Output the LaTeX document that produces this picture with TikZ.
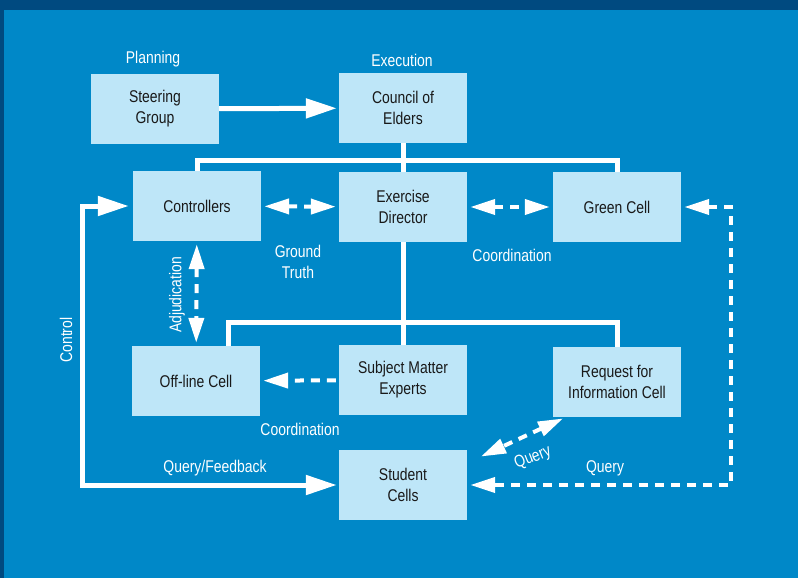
\documentclass[tikz,border=0pt]{standalone}
\usepackage{fontspec}
\setmainfont[FakeStretch=0.82]{Liberation Sans}
\usepackage{tikz}
\usetikzlibrary{arrows.meta}
\definecolor{bgblue}{HTML}{0088C8}
\definecolor{topbar}{HTML}{004A80}
\definecolor{boxblue}{HTML}{BEE6F8}
\tikzset{
    cell/.style = {rectangle, fill=boxblue, text=black!90, align=center, inner sep=0pt,
                   minimum width=128pt, minimum height=70pt, font=\fontsize{17}{21}\selectfont},
    tag/.style = {text=white, align=center, inner sep=0pt, font=\fontsize{17}{21}\selectfont},
    tree/.style = {draw=white, line width=5pt},
    flow/.style = {draw=white, line width=5pt, >={Triangle[length=31pt,width=19pt]},
                   shorten >=2pt},
    dflow/.style = {draw=white, line width=4pt, dash pattern=on 9pt off 7pt,
                    >={Triangle[length=25pt,width=15pt]}, shorten >=3pt, shorten <=3pt}
}

\begin{document}
\begin{tikzpicture}[x=1pt,y=-1pt]
    \useasboundingbox (0,0) rectangle (798,578);
    \fill[topbar] (0,0) rectangle (798,578);
    \fill[bgblue] (4,10) rectangle (798,578);

    \node [cell] (steering) at (155,109) {Steering\\Group};
    \node [cell] (council) at (403,108) {Council of\\Elders};
    \node [cell] (controllers) at (197,206) {Controllers};
    \node [cell] (director) at (403,207) {Exercise\\Director};
    \node [cell] (green) at (617,207) {Green Cell};
    \node [cell] (offline) at (196,381) {Off-line Cell};
    \node [cell] (sme) at (403,380) {Subject Matter\\Experts};
    \node [cell] (rfi) at (617,382) {Request for\\Information Cell};
    \node [cell] (student) at (403,485) {Student\\Cells};

    \coordinate (upperbus) at (403,160);
    \coordinate (lowerbus) at (403,322);
    \coordinate (leftrail) at (82,340);
    \coordinate (rightrail) at (731,340);

    \draw [tree] (council.south) -- (director.north);
    \draw [tree] (controllers.north) |- (upperbus) -| (green.north);
    \draw [tree] (director.south) -- (sme.north);
    \draw [tree] ([xshift=32pt]offline.north) |- (lowerbus) -| (rfi.north);

    \draw [flow,->] (steering) -- (council);
    \draw [flow,<->,shorten <=4pt] (controllers.west) -| (leftrail) |- (student.west);
    \draw [dflow,<->] (controllers) -- (director);
    \draw [dflow,<->] (director) -- (green);
    \draw [dflow,<->] (controllers) -- (offline);
    \draw [dflow,->] (sme) -- (offline);
    \draw [dflow,<->] (green.east) -| (rightrail) |- (student.east);
    \draw [dflow,<->] ([xshift=13pt]rfi.south west) -- ([xshift=11pt,yshift=-8pt]student.north east);

    \node [tag] (planning) at (153,59) {Planning};
    \node [tag] (execution) at (402,60) {Execution};
    \node [tag] (groundtruth) at (298,262) {Ground\\Truth};
    \node [tag] (coordup) at (512,255) {Coordination};
    \node [tag] (coorddown) at (300,429) {Coordination};
    \node [tag, rotate=90] (control) at (66,340) {Control};
    \node [tag, rotate=90] (adjudication) at (177,295) {Adjudication};
    \node [tag] (queryfeedback) at (215,468) {Query/Feedback};
    \node [tag] (queryright) at (605,468) {Query};
    \node [tag, rotate=22] (querydiag) at (533,458) {Query};
\end{tikzpicture}
\end{document}
